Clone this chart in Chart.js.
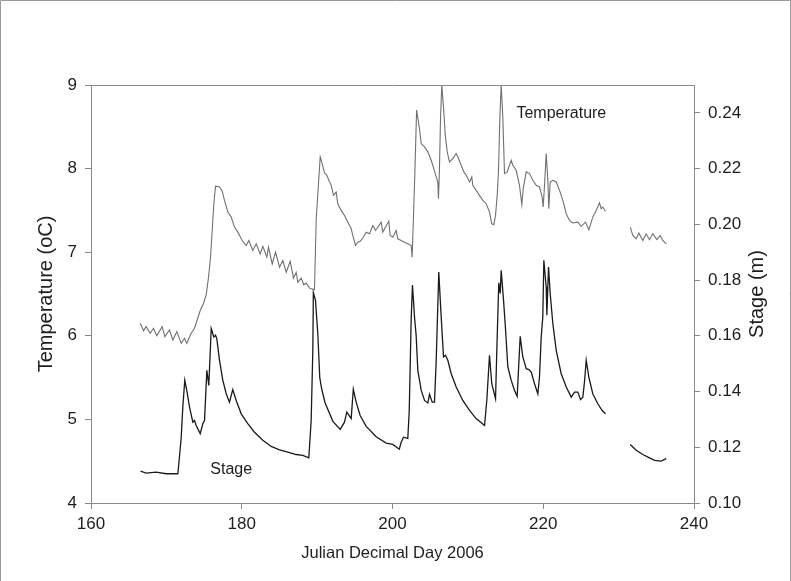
<!DOCTYPE html>
<html>
<head>
<meta charset="utf-8">
<script src="https://cdn.jsdelivr.net/npm/chart.js@4/dist/chart.umd.min.js"></script>
<style>
  html, body { margin: 0; padding: 0; background: #fff; }
  #wrap { width: 791px; height: 581px; position: relative; }
</style>
</head>
<body>
<div id="wrap"><canvas id="c" width="791" height="581"></canvas></div>
<script>
// ---- Data ----
const xTicks = [160, 180, 200, 220, 240];
const tempTicks = [4, 5, 6, 7, 8, 9];
const stageTicks = [0.10, 0.12, 0.14, 0.16, 0.18, 0.20, 0.22, 0.24];

// Temperature (oC), first record block
const tempDays = [166.53,166.97,167.32,167.85,168.29,168.73,169.44,169.80,170.41,170.86,171.39,171.97,172.40,172.71,173.29,173.73,174.48,174.93,175.28,175.59,175.86,176.08,176.30,176.52,177.05,177.41,177.71,178.15,178.60,179.04,179.48,180.06,180.59,180.94,181.47,181.92,182.44,182.80,183.33,183.55,184.04,184.48,185.01,185.45,185.90,186.43,186.87,187.22,187.44,187.88,188.23,188.55,188.99,189.65,189.88,190.41,190.67,190.98,191.29,191.55,191.87,192.17,192.53,192.74,193.19,193.63,194.07,194.52,194.73,195.09,195.40,195.71,196.06,196.51,196.95,197.39,197.75,198.50,198.71,199.51,199.69,200.04,200.49,200.70,201.15,201.59,202.03,202.48,202.61,202.95,203.20,203.58,203.81,204.25,204.69,205.13,205.48,205.80,206.01,206.10,206.23,206.37,206.54,206.81,207.00,207.26,207.56,208.00,208.45,208.67,209.11,209.46,209.78,210.22,210.52,210.65,211.10,211.54,211.98,212.43,212.87,213.17,213.44,213.67,213.89,214.06,214.24,214.42,214.64,214.86,215.22,215.52,215.75,215.96,216.41,216.85,217.16,217.34,217.74,218.18,218.61,219.07,219.50,219.86,219.99,220.17,220.39,220.60,220.74,220.92,221.27,221.72,222.16,222.60,223.05,223.48,223.92,224.59,225.03,225.61,226.05,226.57,227.02,227.46,227.69,227.90,228.26];
const tempVals = [6.15,6.06,6.11,6.03,6.09,6.00,6.11,5.99,6.07,5.95,6.05,5.91,5.97,5.91,6.03,6.09,6.30,6.39,6.49,6.70,6.94,7.26,7.58,7.79,7.78,7.73,7.62,7.48,7.42,7.30,7.24,7.14,7.08,7.14,7.02,7.10,6.98,7.07,6.94,7.06,6.86,7.00,6.82,6.90,6.76,6.89,6.69,6.76,6.64,6.69,6.61,6.63,6.57,6.55,7.40,8.14,8.06,7.95,7.92,7.86,7.80,7.68,7.72,7.58,7.50,7.44,7.36,7.28,7.20,7.08,7.12,7.13,7.17,7.24,7.22,7.32,7.26,7.36,7.24,7.37,7.20,7.18,7.26,7.16,7.14,7.12,7.10,7.08,6.94,7.90,8.70,8.48,8.30,8.26,8.20,8.10,8.00,7.90,7.84,7.64,8.00,8.60,9.00,8.68,8.40,8.20,8.08,8.12,8.18,8.14,8.04,7.96,7.92,7.84,7.90,7.80,7.74,7.68,7.62,7.58,7.48,7.34,7.33,7.44,7.68,7.96,8.60,9.00,8.60,7.94,7.96,8.04,8.10,8.04,7.98,7.80,7.57,7.76,7.96,7.94,7.86,7.80,7.78,7.66,7.54,7.80,8.18,7.88,7.52,7.84,7.86,7.84,7.74,7.62,7.46,7.38,7.35,7.36,7.31,7.36,7.27,7.42,7.50,7.59,7.52,7.54,7.49];
// Temperature, second record block (after the gap)
const tempDays2 = [231.54,231.88,232.33,232.68,233.21,233.65,234.10,234.53,235.07,235.51,235.86,236.31];
const tempVals2 = [7.30,7.20,7.16,7.23,7.14,7.22,7.15,7.22,7.15,7.20,7.14,7.10];

// Stage (m), first record block
const stageDays = [166.57,167.32,168.65,169.98,171.52,171.65,171.97,172.18,172.44,172.71,173.07,173.51,173.73,173.95,174.49,174.84,175.06,175.37,175.63,175.95,176.30,176.52,176.69,177.05,177.49,177.94,178.37,178.81,179.26,179.93,180.80,181.69,182.79,183.91,185.01,186.11,187.22,188.10,188.90,189.21,189.43,189.50,189.78,190.09,190.35,190.60,191.05,192.09,193.06,193.63,193.94,194.30,194.52,194.80,195.18,195.71,196.51,197.84,199.16,200.04,200.90,201.15,201.46,202.03,202.22,202.48,202.65,202.92,203.14,203.36,203.81,204.25,204.69,204.91,205.27,205.57,205.80,206.14,206.46,206.77,207.03,207.34,207.79,208.45,209.33,210.22,211.10,212.21,212.51,212.87,213.17,213.67,213.84,214.10,214.29,214.42,214.73,214.99,215.30,215.75,216.19,216.54,216.94,217.29,217.74,218.09,218.41,218.84,219.28,219.50,219.73,219.94,220.08,220.39,220.48,220.70,220.92,221.27,221.72,222.38,223.05,223.71,224.15,224.59,224.95,225.25,225.47,225.70,226.05,226.57,227.24,227.82,228.26];
const stageVals = [0.1114,0.1107,0.1111,0.1105,0.1105,0.1141,0.1236,0.1344,0.1440,0.1404,0.1344,0.1290,0.1296,0.1278,0.1249,0.1285,0.1296,0.1476,0.1422,0.1626,0.1596,0.1602,0.1590,0.1512,0.1440,0.1392,0.1362,0.1407,0.1368,0.1320,0.1285,0.1254,0.1225,0.1203,0.1191,0.1183,0.1174,0.1171,0.1162,0.1296,0.1548,0.1755,0.1728,0.1608,0.1450,0.1410,0.1360,0.1293,0.1264,0.1290,0.1326,0.1312,0.1303,0.1408,0.1362,0.1314,0.1275,0.1238,0.1215,0.1210,0.1193,0.1218,0.1236,0.1232,0.1330,0.1662,0.1782,0.1668,0.1600,0.1476,0.1404,0.1368,0.1359,0.1390,0.1362,0.1362,0.1512,0.1829,0.1668,0.1524,0.1530,0.1512,0.1464,0.1416,0.1368,0.1332,0.1303,0.1278,0.1368,0.1530,0.1428,0.1374,0.1548,0.1790,0.1752,0.1835,0.1728,0.1626,0.1488,0.1440,0.1404,0.1383,0.1598,0.1524,0.1482,0.1479,0.1470,0.1428,0.1392,0.1452,0.1596,0.1668,0.1871,0.1775,0.1674,0.1847,0.1752,0.1644,0.1548,0.1464,0.1416,0.1380,0.1398,0.1398,0.1371,0.1380,0.1434,0.1512,0.1452,0.1392,0.1356,0.1332,0.1320];
// Stage, second record block (after the gap)
const stageDays2 = [231.54,232.33,233.21,234.10,234.76,235.64,236.31];
const stageVals2 = [0.1210,0.1189,0.1174,0.1162,0.1153,0.1150,0.1159];

const gapDay = 230;

// ---- Build the datasets from the arrays ----
function pts(days, vals) { return days.map((d, i) => ({ x: d, y: vals[i] })); }
const tempData = pts(tempDays, tempVals).concat([{ x: gapDay, y: null }], pts(tempDays2, tempVals2));
const stageData = pts(stageDays, stageVals).concat([{ x: gapDay, y: null }], pts(stageDays2, stageVals2));

const FONT = "'Liberation Sans', Arial, Helvetica, sans-serif";
const AXIS = '#8a8a8a';
const TXT = '#1e1e1e';

const decorPlugin = {
  id: 'decor',
  afterDraw(chart) {
    const { ctx, chartArea: a, scales } = chart;
    ctx.save();
    // top frame line of plot
    ctx.strokeStyle = AXIS;
    ctx.lineWidth = 1;
    ctx.beginPath();
    ctx.moveTo(a.left, a.top + 0.5);
    ctx.lineTo(a.right, a.top + 0.5);
    ctx.stroke();
    // outer image border (top, left, right)
    ctx.strokeStyle = '#9a9a9a';
    ctx.beginPath();
    ctx.moveTo(0.5, 581);
    ctx.lineTo(0.5, 0.5);
    ctx.lineTo(790.5, 0.5);
    ctx.lineTo(790.5, 581);
    ctx.stroke();
    // annotations
    ctx.fillStyle = TXT;
    ctx.font = '16px ' + FONT;
    ctx.textAlign = 'center';
    ctx.textBaseline = 'middle';
    ctx.fillText('Temperature', scales.x.getPixelForValue(222.4), scales.y.getPixelForValue(8.66));
    ctx.fillText('Stage', scales.x.getPixelForValue(178.6), scales.y.getPixelForValue(4.40));
    // right axis title, reading bottom-to-top
    ctx.font = '20px ' + FONT;
    ctx.translate(757, (a.top + a.bottom) / 2);
    ctx.rotate(-Math.PI / 2);
    ctx.fillText('Stage (m)', 0, 0);
    ctx.restore();
  }
};

new Chart(document.getElementById('c'), {
  type: 'line',
  data: {
    datasets: [
      { label: 'Temperature', data: tempData, yAxisID: 'y', borderColor: '#707070', borderWidth: 1.1, pointRadius: 0, tension: 0, spanGaps: false },
      { label: 'Stage', data: stageData, yAxisID: 'y2', borderColor: '#1a1a1a', borderWidth: 1.3, pointRadius: 0, tension: 0, spanGaps: false }
    ]
  },
  options: {
    responsive: false,
    animation: false,
    devicePixelRatio: 1,
    layout: { padding: { top: 85, left: 0, right: 0, bottom: 0 } },
    plugins: { legend: { display: false }, tooltip: { enabled: false } },
    scales: {
      x: {
        type: 'linear', min: 160, max: 240,
        afterBuildTicks: s => { s.ticks = xTicks.map(v => ({ value: v })); },
        afterFit: s => { s.height = 78; },
        border: { display: true, color: AXIS, width: 1 },
        grid: { display: true, drawOnChartArea: false, drawTicks: true, tickLength: 6, color: AXIS },
        ticks: { color: TXT, font: { family: FONT, size: 17 }, padding: 5, maxRotation: 0 },
        title: { display: true, text: 'Julian Decimal Day 2006', color: TXT, font: { family: FONT, size: 16.5 }, padding: { top: 0, bottom: 18 } }
      },
      y: {
        position: 'left', min: 4, max: 9,
        afterBuildTicks: s => { s.ticks = tempTicks.map(v => ({ value: v })); },
        afterFit: s => { s.width = 91; },
        border: { display: true, color: AXIS, width: 1 },
        grid: { display: true, drawOnChartArea: false, drawTicks: true, tickLength: 6, color: AXIS },
        ticks: { color: TXT, font: { family: FONT, size: 17 }, padding: 8 },
        title: { display: true, text: 'Temperature (oC)', color: TXT, font: { family: FONT, size: 20 }, padding: { top: 34, bottom: 0 } }
      },
      y2: {
        position: 'right', min: 0.10, max: 0.25,
        afterBuildTicks: s => { s.ticks = stageTicks.map(v => ({ value: v })); },
        afterFit: s => { s.width = 97; },
        border: { display: true, color: AXIS, width: 1 },
        grid: { display: true, drawOnChartArea: false, drawTicks: true, tickLength: 6, color: AXIS },
        ticks: { color: TXT, font: { family: FONT, size: 17 }, padding: 8, callback: v => Number(v).toFixed(2) },
        title: { display: false }
      }
    }
  },
  plugins: [decorPlugin]
});
</script>
</body>
</html>
